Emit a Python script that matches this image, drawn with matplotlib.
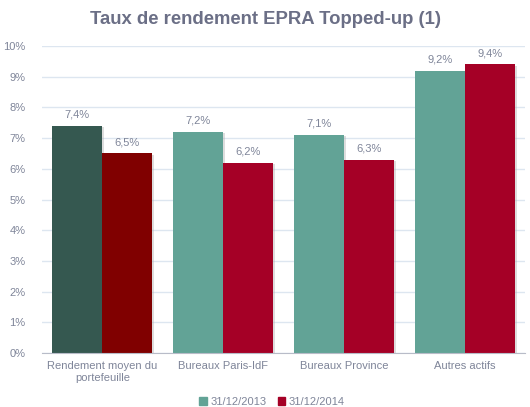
import matplotlib
matplotlib.use("Agg")
import numpy as np
import matplotlib.pyplot as plt
import matplotlib.patheffects as pe
from matplotlib.patches import Patch

plt.rcParams['font.family'] = ['Liberation Sans', 'DejaVu Sans']

categories = ["Rendement moyen du\nportefeuille", "Bureaux Paris-IdF",
              "Bureaux Province", "Autres actifs"]
series_names = ["31/12/2013", "31/12/2014"]
vals_2013 = [7.4, 7.2, 7.1, 9.2]
vals_2014 = [6.5, 6.2, 6.3, 9.4]

col_2013 = ["#355850", "#62a396", "#62a396", "#62a396"]
col_2014 = ["#800000", "#a50026", "#a50026", "#a50026"]
txt = "#7f8599"

fig = plt.figure(figsize=(5.3, 4.07), dpi=100)
ax = fig.add_axes([42 / 530, 1 - 353 / 407, 483 / 530, 307 / 407])

x = np.arange(len(categories))
w = 0.414
shadow = [pe.SimplePatchShadow(offset=(1.5, -1), shadow_rgbFace="#aaaaaa", alpha=0.4), pe.Normal()]
b1 = ax.bar(x - w / 2, vals_2013, w, color=col_2013, zorder=3)
b2 = ax.bar(x + w / 2, vals_2014, w, color=col_2014, zorder=3)
for bars, vals in ((b1, vals_2013), (b2, vals_2014)):
    for b, v in zip(bars, vals):
        b.set_path_effects(shadow)
        ax.text(b.get_x() + b.get_width() / 2, v + 0.2, f"{v:.1f}%".replace(".", ","),
                ha="center", va="bottom", fontsize=8, color=txt)

ax.set_xlim(-0.5, 3.5)
ax.set_ylim(0, 10)
ax.set_yticks(range(0, 11))
ax.set_yticklabels([f"{i}%" for i in range(0, 11)])
ax.set_xticks(x)
ax.set_xticklabels(categories)
ax.tick_params(axis="both", length=0, labelsize=8, colors=txt)
ax.tick_params(axis="y", pad=12)
ax.tick_params(axis="x", pad=6)
ax.grid(axis="y", color="#dde6f0", linewidth=1, zorder=0)
for s in ["top", "right", "left"]:
    ax.spines[s].set_visible(False)
ax.spines["bottom"].set_color("#b8bcc8")
ax.spines["bottom"].set_zorder(4)

fig.text(0.5, 1 - 20 / 407, "Taux de rendement EPRA Topped-up (1)", ha="center", va="center",
         fontsize=13.3, fontweight="bold", color="#6b6f86")

handles = [Patch(color="#62a396"), Patch(color="#a50026")]
fig.legend(handles, series_names, loc="center", bbox_to_anchor=(272 / 530, 1 - 402 / 407),
           ncol=2, frameon=False, fontsize=8, labelcolor=txt, handlelength=0.7,
           handleheight=0.7, handletextpad=0.3, columnspacing=1.0)

fig.savefig("out.png", dpi=100)
